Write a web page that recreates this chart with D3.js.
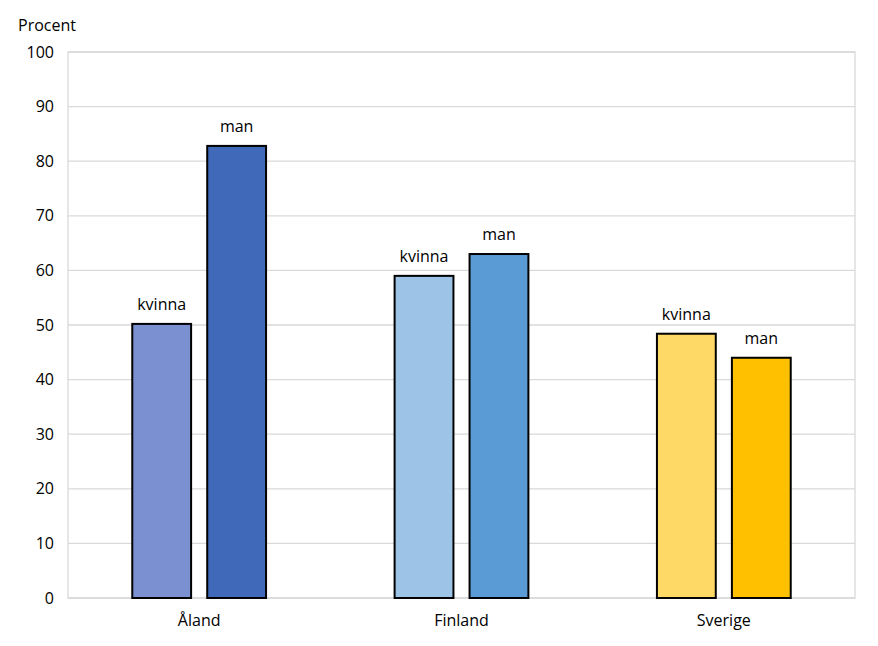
<!DOCTYPE html>
<html>
<head>
<meta charset="utf-8">
<script src="https://cdn.jsdelivr.net/npm/d3@7"></script>
<style>
  body { margin: 0; background: #fff; }
  svg text { font-family: "Open Sans", "Liberation Sans", sans-serif; fill: #000; }
</style>
</head>
<body>
<div id="chart"></div>
<script>
// data
const countries = ['Åland', 'Finland', 'Sverige'];
const genders = ['kvinna', 'man'];
const kvinnaValues = [50.2, 59.0, 48.4];
const manValues = [82.8, 63.0, 44.0];
const yTicks = [0, 10, 20, 30, 40, 50, 60, 70, 80, 90, 100];
const barColors = [
  ['#7a90d0', '#4169b9'],
  ['#9dc3e6', '#5b9bd5'],
  ['#ffd966', '#ffc000']
];

const W = 878, H = 646;
const MARGIN = { TOP: 52, RIGHT: 23, BOTTOM: 48, LEFT: 68 };
const innerW = W - MARGIN.LEFT - MARGIN.RIGHT;
const innerH = H - MARGIN.TOP - MARGIN.BOTTOM;

const rows = countries.map((c, i) => ({
  country: c,
  values: [
    { key: 'kvinna', value: kvinnaValues[i], color: barColors[i][0] },
    { key: 'man', value: manValues[i], color: barColors[i][1] }
  ]
}));

const svg = d3.select('#chart').append('svg')
  .attr('width', W)
  .attr('height', H);

const g = svg.append('g')
  .attr('transform', `translate(${MARGIN.LEFT},${MARGIN.TOP})`);

const x = d3.scaleBand().domain(countries).range([0, innerW]).paddingInner(0).paddingOuter(0);
const xSub = d3.scaleBand().domain(genders).range([x.bandwidth() * 0.245, x.bandwidth() * 0.755]).paddingInner(0.215);
const y = d3.scaleLinear().domain([0, 100]).range([innerH, 0]);

// gridlines
g.append('g')
  .selectAll('line')
  .data(yTicks)
  .join('line')
  .attr('x1', 0).attr('x2', innerW)
  .attr('y1', d => y(d)).attr('y2', d => y(d))
  .attr('stroke', '#d9d9d9')
  .attr('stroke-width', 1.3);

// plot border
g.append('rect')
  .attr('x', 0).attr('y', 0)
  .attr('width', innerW).attr('height', innerH)
  .attr('fill', 'none')
  .attr('stroke', '#d9d9d9')
  .attr('stroke-width', 1.3);

// y axis
const yAxis = g.append('g')
  .call(d3.axisLeft(y).tickValues(yTicks).tickSize(0).tickPadding(14));
yAxis.select('.domain').remove();
yAxis.selectAll('text').attr('font-size', 16);

// x axis
const xAxis = g.append('g')
  .attr('transform', `translate(0,${innerH})`)
  .call(d3.axisBottom(x).tickSize(0).tickPadding(17));
xAxis.select('.domain').remove();
xAxis.selectAll('text').attr('font-size', 16);

// bars
const groups = g.append('g')
  .selectAll('g')
  .data(rows)
  .join('g')
  .attr('transform', d => `translate(${x(d.country)},0)`);

groups.selectAll('rect')
  .data(d => d.values)
  .join('rect')
  .attr('x', d => xSub(d.key))
  .attr('y', d => y(d.value))
  .attr('width', xSub.bandwidth())
  .attr('height', d => innerH - y(d.value))
  .attr('fill', d => d.color)
  .attr('stroke', '#000')
  .attr('stroke-width', 2);

groups.selectAll('text.lbl')
  .data(d => d.values)
  .join('text')
  .attr('class', 'lbl')
  .attr('x', d => xSub(d.key) + xSub.bandwidth() / 2)
  .attr('y', d => y(d.value) - 14)
  .attr('text-anchor', 'middle')
  .attr('font-size', 16)
  .text(d => d.key);

// y axis title
svg.append('text')
  .attr('x', 18)
  .attr('y', 31)
  .attr('font-size', 16)
  .text('Procent');
</script>
</body>
</html>
